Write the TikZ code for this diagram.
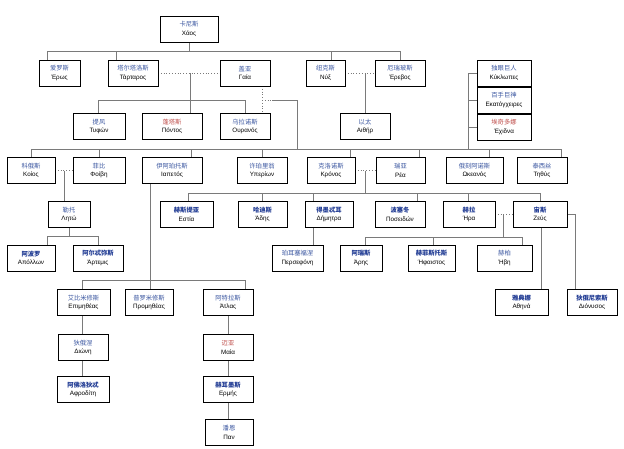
\documentclass[tikz,border=0pt]{standalone}
\usepackage{fontspec}
\setmainfont{Liberation Sans}
\newfontfamily\cjk{Noto Sans CJK SC}
\definecolor{cnblue}{HTML}{3A56A0}
\definecolor{cnbold}{HTML}{1F3A93}
\definecolor{cnred}{HTML}{C0504D}
\definecolor{lngray}{HTML}{7A7A7A}
\tikzset{
  box/.style={draw=black,line width=1pt,fill=white,inner sep=0pt,align=center,font=\fontsize{6.3}{8.5}\selectfont},
  ln/.style={draw=lngray,line width=0.8pt},
  dl/.style={draw=lngray,line width=0.8pt,dotted},
}
\newcommand\bx[6]{\node[box,minimum width=#4pt,minimum height=26pt] (#1) at (#2,#3) {#5\\#6};}
\newcommand\cnb[1]{{\cjk\color{cnblue}#1}}
\newcommand\cnbb[1]{{\cjk\bfseries\color{cnbold}#1}}
\newcommand\cnr[1]{{\cjk\color{cnred}#1}}
\begin{document}
\begin{tikzpicture}[x=1pt,y=-1pt]
\useasboundingbox (0,0) rectangle (624,448);
% lines first
\draw[ln] (189,42) -- (189,51);
\draw[ln] (47,60) |- (400,51) -- (400,60);
\draw[ln] (116,51) -- (116,60);
\draw[ln] (331,51) -- (331,60);
\draw[dl] (158,73) -- (220,73);
\draw[ln] (190,73) -- (190,113);
\draw[ln] (98,113) |- (245,100) -- (245,113);
\draw[dl] (262,86) -- (262,113);
\draw[dl] (262,100) -- (272,100);
\draw[ln] (272,100) -- (297,100) -- (297,149);
\draw[dl] (345,73) -- (375,73);
\draw[ln] (365,73) -- (365,113);
\draw[ln] (477,73) -- (468,73) -- (468,149);
\draw[ln] (468,100) -- (477,100);
\draw[ln] (468,127) -- (477,127);
\draw[ln] (31,158) |- (561,149) -- (561,158);
\foreach \x in {99,191,262,350,419,489} \draw[ln] (\x,149) -- (\x,158);
% Koios-Phoibe
\draw[dl] (55,170.5) -- (73,170.5);
\draw[ln] (64,170.5) -- (64,202);
\draw[ln] (69,227) -- (69,236);
\draw[ln] (47,245) |- (98,236) -- (98,245);
% Kronos-Rhea
\draw[dl] (355,170.5) -- (376,170.5);
\draw[ln] (365,170.5) -- (365,193);
\draw[ln] (188,202) |- (540,193) -- (540,202);
\foreach \x in {262,313,417,468} \draw[ln] (\x,193) -- (\x,202);
\draw[ln] (313,227) -- (313,245);
% Hera-Zeus
\draw[dl] (495,214.5) -- (513,214.5);
\draw[ln] (503,214.5) -- (503,237);
\draw[ln] (365,245) |- (522,237) -- (522,245);
\draw[ln] (433,237) -- (433,245);
\draw[ln] (541,227) -- (541,289);
\draw[ln] (567,214.5) -- (575,214.5) -- (575,289);
% Iapetos
\draw[ln] (150,183) -- (150,290);
\draw[ln] (82,290) |- (245,280) -- (245,290);
\draw[ln] (82,315) -- (82,335);
\draw[ln] (82,360) -- (82,377);
\draw[ln] (228,315) -- (228,420);
% boxes
\bx{chaos}{189}{29}{58}{\cnb{卡尼斯}}{Χάος}
\bx{eros}{59.5}{73}{41}{\cnb{爱罗斯}}{Έρως}
\bx{tart}{133}{73}{50}{\cnb{塔尔塔洛斯}}{Τάρταρος}
\bx{gaia}{245}{73}{50}{\cnb{盖亚}}{Γαία}
\bx{nyx}{325.5}{73}{39}{\cnb{纽克斯}}{Νύξ}
\bx{ereb}{400}{73}{50}{\cnb{厄瑞玻斯}}{Έρεβος}
\bx{cyc}{504}{73}{54}{\cnb{独眼巨人}}{Κύκλωπες}
\bx{hec}{504}{100}{54}{\cnb{百手巨神}}{Εκατόγχειρες}
\bx{ech}{504}{127}{54}{\cnr{埃奇多娜}}{Έχιδνα}
\bx{typh}{99}{126.5}{52}{\cnb{提风}}{Τυφών}
\bx{pont}{172}{126.5}{60}{\cnr{蓬塔斯}}{Πόντος}
\bx{oura}{245}{126.5}{50}{\cnb{乌拉诺斯}}{Ουρανός}
\bx{aith}{365}{126.5}{50}{\cnb{以太}}{Αιθήρ}
\bx{koios}{31}{170.5}{48}{\cnb{科俄斯}}{Κοίος}
\bx{phoibe}{99}{170.5}{52}{\cnb{菲比}}{Φοίβη}
\bx{iap}{172}{170.5}{60}{\cnb{伊阿珀托斯}}{Ιαπετός}
\bx{hyp}{262}{170.5}{50}{\cnb{许珀里翁}}{Υπερίων}
\bx{kron}{331}{170.5}{48}{\cnb{克洛诺斯}}{Κρόνος}
\bx{rhea}{400.5}{170.5}{49}{\cnb{瑞亚}}{Ρέα}
\bx{okea}{474.5}{170.5}{57}{\cnb{俄刻阿诺斯}}{Ωκεανός}
\bx{teth}{542}{170.5}{50}{\cnb{泰西丝}}{Τηθύς}
\bx{leto}{69}{214.5}{42}{\cnb{勒托}}{Λητώ}
\bx{hestia}{186.5}{214.5}{53}{\cnbb{赫斯提亚}}{Εστία}
\bx{hades}{262.5}{214.5}{49}{\cnbb{哈迪斯}}{Άδης}
\bx{demeter}{329}{214.5}{48}{\cnbb{得墨忒耳}}{Δήμητρα}
\bx{posei}{400}{214.5}{50}{\cnbb{波塞冬}}{Ποσειδών}
\bx{hera}{469}{214.5}{52}{\cnbb{赫拉}}{Ήρα}
\bx{zeus}{540}{214.5}{54}{\cnbb{宙斯}}{Ζεύς}
\bx{apollo}{31}{258}{48}{\cnbb{阿波罗}}{Απόλλων}
\bx{artemis}{98}{258}{50}{\cnbb{阿尔忒弥斯}}{Άρτεμις}
\bx{perse}{297.5}{258}{51}{\cnb{珀耳塞福涅}}{Περσεφόνη}
\bx{ares}{361}{258}{42}{\cnbb{阿瑞斯}}{Άρης}
\bx{heph}{431.5}{258}{47}{\cnbb{赫菲斯托斯}}{Ήφαιστος}
\bx{hebe}{504.5}{258}{55}{\cnb{赫柏}}{Ήβη}
\bx{athena}{521.5}{302.5}{53}{\cnbb{雅典娜}}{Αθηνά}
\bx{diony}{592}{302.5}{50}{\cnbb{狄俄尼索斯}}{Διόνυσος}
\bx{epim}{83.5}{302.5}{53}{\cnb{艾比米修斯}}{Επιμηθέας}
\bx{prom}{149}{302.5}{48}{\cnb{普罗米修斯}}{Προμηθέας}
\bx{atlas}{228}{302.5}{50}{\cnb{阿特拉斯}}{Άτλας}
\bx{dione}{83}{347.5}{50}{\cnb{狄俄涅}}{Διώνη}
\bx{aphro}{83}{389.5}{52}{\cnbb{阿佛洛狄忒}}{Αφροδίτη}
\bx{maia}{228}{347.5}{50}{\cnr{迈亚}}{Μαία}
\bx{hermes}{228}{389.5}{50}{\cnbb{赫耳墨斯}}{Ερμής}
\bx{pan}{229}{432.5}{48}{\cnb{潘恩}}{Παν}
\end{tikzpicture}
\end{document}
